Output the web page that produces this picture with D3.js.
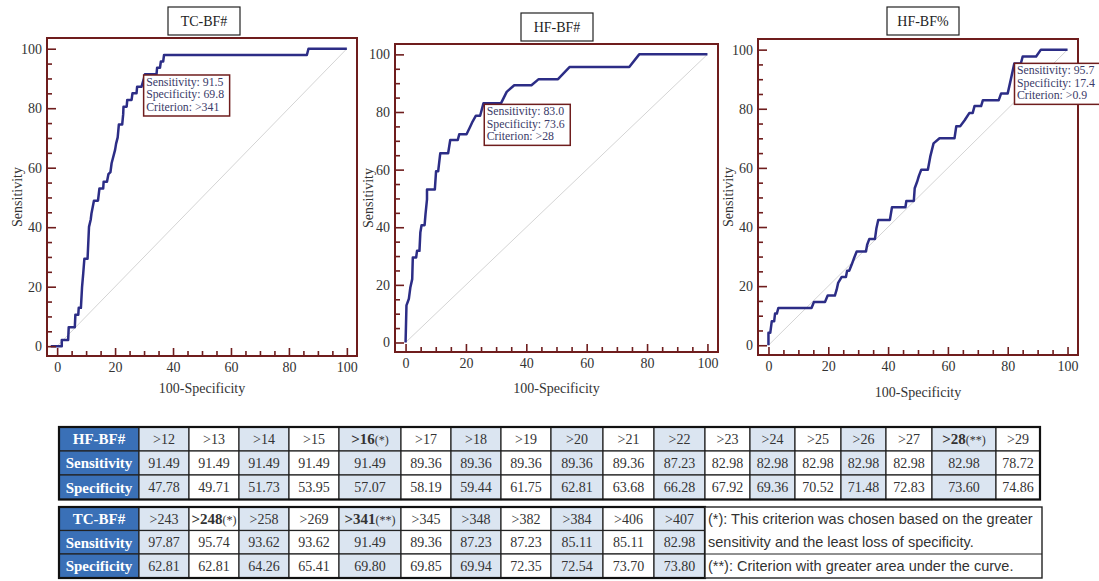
<!DOCTYPE html>
<html>
<head>
<meta charset="utf-8">
<script src="https://cdn.jsdelivr.net/npm/d3@7.9.0/dist/d3.min.js"></script>
<style>
  body { margin: 0; background: #fff; }
  svg { display: block; font-family: "Liberation Serif", "Times New Roman", serif; }
</style>
</head>
<body>
<svg id="chart" width="1099" height="581"></svg>
<script>
// ROC curves: x = 100-Specificity, y = Sensitivity
const tcX = [-2.2, 1.6, 1.6, 3.8, 4.0, 6.1, 6.3, 7.3, 7.45, 8.2, 8.6, 9.0, 9.4, 10.5, 11.0, 11.6, 11.85, 12.7, 14.1, 14.6, 15.9, 16.05, 17.2, 17.7, 18.4, 18.8, 20.0, 20.35, 20.9, 21.3, 22.45, 22.8, 22.9, 24.0, 24.2, 25.7, 26.0, 27.4, 27.6, 29.1, 29.8, 30.3, 34.3, 34.5, 35.5, 35.8, 36.6, 36.9, 86.2, 86.75, 100];
const tcY = [0, 0, 2.1, 2.1, 6.4, 6.4, 10.6, 10.6, 12.9, 12.9, 19.9, 24.4, 29.4, 29.4, 40.1, 42.6, 44.6, 48.9, 48.9, 53.0, 53.0, 55.3, 55.3, 57.8, 58.5, 61.5, 66.0, 68.1, 70.2, 74.5, 74.5, 78.0, 80.5, 80.5, 82.8, 82.8, 85.0, 85.0, 87.2, 87.2, 89.4, 91.4, 91.4, 93.6, 93.6, 95.7, 95.7, 97.9, 97.9, 100, 100];

const hfX = [0, 0.3, 1.1, 1.6, 2.2, 2.4, 3.5, 3.8, 4.6, 4.9, 5.3, 6.3, 6.6, 7.1, 7.1, 9.7, 10.1, 10.8, 11.5, 14.1, 14.8, 17.3, 17.8, 20.2, 21.4, 22.2, 23.3, 24.7, 25.8, 31.6, 33.5, 36.0, 41.7, 44.1, 50.5, 54.3, 74.1, 77.4, 100];
const hfY = [0, 12.9, 15.2, 19.2, 22.0, 29.5, 29.5, 31.8, 31.8, 38.2, 40.7, 40.7, 44.5, 49.7, 53.1, 53.1, 59.4, 59.4, 65.7, 65.7, 70.3, 70.3, 72.3, 72.3, 74.9, 76.7, 78.7, 78.7, 83.0, 83.0, 87.0, 89.3, 89.3, 91.4, 91.4, 95.6, 95.6, 100, 100];

const pctX = [0, 0, 0.6, 1.1, 1.9, 2.2, 2.8, 3.3, 14.4, 15.2, 18.9, 19.8, 22.2, 22.8, 23.3, 24.5, 25.9, 26.3, 27.0, 27.8, 28.7, 29.5, 32.6, 33.0, 33.7, 35.6, 36.1, 36.7, 40.6, 41.3, 45.8, 46.1, 48.6, 48.9, 49.7, 50.3, 51.1, 53.3, 54.1, 55.2, 57.2, 62.2, 62.8, 64.1, 65.6, 67.2, 68.3, 68.9, 71.1, 71.7, 77.0, 77.8, 80.0, 81.1, 82.2, 84.4, 85.0, 89.5, 91.1, 100];
const pctY = [0, 4.2, 4.2, 8.1, 8.1, 10.7, 10.7, 12.6, 12.6, 14.6, 14.6, 16.8, 16.8, 18.8, 21.1, 23.1, 23.1, 25.2, 25.2, 27.2, 29.7, 31.7, 31.7, 34.0, 35.9, 35.9, 39.6, 42.4, 42.4, 46.7, 46.7, 48.8, 48.8, 53.1, 55.3, 57.3, 59.4, 59.4, 63.8, 68.3, 70.0, 70.0, 74.1, 74.1, 76.1, 78.6, 78.6, 80.9, 80.9, 82.9, 82.9, 85.2, 85.2, 90.2, 95.3, 95.3, 97.7, 97.7, 100, 100];

const panelTitles = ['TC-BF#', 'HF-BF#', 'HF-BF%'];
const critSens = [91.5, 83.0, 95.7];
const critSpec = [69.8, 73.6, 17.4];
const critCut = ['>341', '>28', '>0.9'];
const majorTicks = [0, 20, 40, 60, 80, 100];
const minorTicks = [5, 10, 15, 25, 30, 35, 45, 50, 55, 65, 70, 75, 85, 90, 95];

// table values
const rowNames = ['Sensitivity', 'Specificity'];
const hfCriteria = ['>12', '>13', '>14', '>15', '>16(*)', '>17', '>18', '>19', '>20', '>21', '>22', '>23', '>24', '>25', '>26', '>27', '>28(**)', '>29'];
const hfSens = [91.49, 91.49, 91.49, 91.49, 91.49, 89.36, 89.36, 89.36, 89.36, 89.36, 87.23, 82.98, 82.98, 82.98, 82.98, 82.98, 82.98, 78.72];
const hfSpec = [47.78, 49.71, 51.73, 53.95, 57.07, 58.19, 59.44, 61.75, 62.81, 63.68, 66.28, 67.92, 69.36, 70.52, 71.48, 72.83, 73.60, 74.86];
const tcCriteria = ['>243', '>248(*)', '>258', '>269', '>341(**)', '>345', '>348', '>382', '>384', '>406', '>407'];
const tcSens = [97.87, 95.74, 93.62, 93.62, 91.49, 89.36, 87.23, 87.23, 85.11, 85.11, 82.98];
const tcSpec = [62.81, 62.81, 64.26, 65.41, 69.80, 69.85, 69.94, 72.35, 72.54, 73.70, 73.80];
const notes = [
  '(*): This criterion was chosen based on the greater',
  'sensitivity and the least loss of specificity.',
  '(**): Criterion with greater area under the curve.'
];

const curves = [[tcX, tcY], [hfX, hfY], [pctX, pctY]];

// layout
const frames = [
  { x0: 47, x1: 357, y0: 38, y1: 356, titleX: 204, titleY: 7, xLabY: 393, yLabX: 17 },
  { x0: 395, x1: 718, y0: 44, y1: 352, titleX: 557, titleY: 13, xLabY: 393, yLabX: 368 },
  { x0: 758, x1: 1078, y0: 39, y1: 355, titleX: 923, titleY: 7, xLabY: 397, yLabX: 728 }
];
const frameColor = '#6f1d1d';
const curveColor = '#2c2d86';
const textColor = '#333';

const svg = d3.select('#chart');

frames.forEach((f, i) => {
  const x = d3.scaleLinear().domain([-3.5, 103.5]).range([f.x0, f.x1]);
  const y = d3.scaleLinear().domain([-3.3, 103.6]).range([f.y1, f.y0]);
  const g = svg.append('g');

  // title box
  g.append('rect')
    .attr('x', f.titleX - 36).attr('y', f.titleY)
    .attr('width', 72).attr('height', 28)
    .attr('fill', '#fff').attr('stroke', '#222').attr('stroke-width', 1.2);
  g.append('text')
    .attr('x', f.titleX).attr('y', f.titleY + 19)
    .attr('text-anchor', 'middle').attr('font-size', 14).attr('fill', '#222')
    .text(panelTitles[i]);

  // diagonal reference
  g.append('line')
    .attr('x1', x(0)).attr('y1', y(0)).attr('x2', x(100)).attr('y2', y(100))
    .attr('stroke', '#d4d4d4').attr('stroke-width', 1);

  // roc curve
  const [xs, ys] = curves[i];
  const pts = xs.map((v, k) => [v, ys[k]]);
  const line = d3.line().x(d => x(d[0])).y(d => y(d[1]));
  g.append('path')
    .attr('d', line(pts))
    .attr('fill', 'none').attr('stroke', curveColor)
    .attr('stroke-width', 2.5).attr('stroke-linejoin', 'round');

  // axes with inward ticks
  g.append('g').attr('transform', `translate(0,${f.y1})`)
    .call(d3.axisBottom(x).tickValues(majorTicks).tickSize(-8).tickPadding(6));
  g.append('g').attr('transform', `translate(0,${f.y1})`)
    .call(d3.axisBottom(x).tickValues(minorTicks).tickSize(-5).tickFormat(''));
  g.append('g').attr('transform', `translate(${f.x0},0)`)
    .call(d3.axisLeft(y).tickValues(majorTicks).tickSize(-9).tickPadding(5));
  g.append('g').attr('transform', `translate(${f.x0},0)`)
    .call(d3.axisLeft(y).tickValues(minorTicks).tickSize(-5).tickFormat(''));

  g.selectAll('.domain').remove();
  g.selectAll('.tick line').attr('stroke', frameColor).attr('stroke-width', 1.6);
  g.selectAll('.tick text')
    .attr('font-family', '"Liberation Serif", serif')
    .attr('font-size', 14).attr('fill', textColor);

  // frame
  g.append('rect')
    .attr('x', f.x0).attr('y', f.y0)
    .attr('width', f.x1 - f.x0).attr('height', f.y1 - f.y0)
    .attr('fill', 'none').attr('stroke', frameColor).attr('stroke-width', 2);

  // axis titles
  g.append('text')
    .attr('x', (f.x0 + f.x1) / 2).attr('y', f.xLabY)
    .attr('text-anchor', 'middle').attr('font-size', 14).attr('fill', textColor)
    .text('100-Specificity');
  g.append('text')
    .attr('transform', `translate(${f.yLabX},${(f.y0 + f.y1) / 2}) rotate(-90)`)
    .attr('text-anchor', 'middle').attr('dy', '0.35em')
    .attr('font-size', 14).attr('fill', textColor)
    .text('Sensitivity');

  // criterion box
  const bx = x(100 - critSpec[i]) - 1;
  const by = y(critSens[i]) + 1;
  g.append('rect')
    .attr('x', bx).attr('y', by).attr('width', 86).attr('height', 41)
    .attr('fill', '#fff').attr('stroke', frameColor).attr('stroke-width', 1.5);
  const lines = [
    `Sensitivity: ${critSens[i].toFixed(1)}`,
    `Specificity: ${critSpec[i].toFixed(1)}`,
    `Criterion: ${critCut[i]}`
  ];
  lines.forEach((t, k) => {
    g.append('text')
      .attr('x', bx + 2.5).attr('y', by + 11 + k * 12.3)
      .attr('font-size', 11.8).attr('fill', '#3a3a68')
      .text(t);
  });
});

// ---- tables ----
const colW = [50, 50, 50, 50, 62, 50, 50, 50, 52, 51, 51, 45, 45, 46, 45, 46, 64, 44];
const headX = 59, headW = 80;
const colX = [];
colW.reduce((acc, w) => { colX.push(acc); return acc + w; }, headX + headW);
const lightBlue = '#dbe5f1';
const headBlue = '#3a70b7';

function criterionText(sel, label) {
  const m = label.match(/^(.*?)(\(\*+\))$/);
  if (m) {
    sel.append('tspan').attr('font-weight', 'bold').attr('font-size', 15).text(m[1]);
    sel.append('tspan').attr('font-size', 12).text(m[2]);
  } else {
    sel.text(label);
  }
}

function drawTable(rowY, title, criteria, sens, spec) {
  const g = svg.append('g');
  const headers = [title, ...rowNames];
  const rows = [criteria, sens.map(v => v.toFixed(2)), spec.map(v => v.toFixed(2))];
  headers.forEach((h, r) => {
    const y0 = rowY[r], h0 = rowY[r + 1] - rowY[r];
    g.append('rect').attr('x', headX).attr('y', y0).attr('width', headW).attr('height', h0)
      .attr('fill', headBlue).attr('stroke', '#222').attr('stroke-width', 1.2);
    g.append('text').attr('x', headX + headW / 2).attr('y', y0 + h0 / 2)
      .attr('dy', '0.35em').attr('text-anchor', 'middle')
      .attr('font-size', 15).attr('font-weight', 'bold').attr('fill', '#fff')
      .text(h);
    rows[r].forEach((val, c) => {
      g.append('rect').attr('x', colX[c]).attr('y', y0).attr('width', colW[c]).attr('height', h0)
        .attr('fill', c % 2 === 0 ? lightBlue : '#fff')
        .attr('stroke', '#222').attr('stroke-width', 1.2);
      const t = g.append('text').attr('x', colX[c] + colW[c] / 2).attr('y', y0 + h0 / 2)
        .attr('dy', '0.35em').attr('text-anchor', 'middle')
        .attr('font-size', 14).attr('fill', textColor);
      if (r === 0) criterionText(t, val); else t.text(val);
    });
  });
  const last = criteria.length - 1;
  g.append('rect').attr('x', headX).attr('y', rowY[0])
    .attr('width', colX[last] + colW[last] - headX).attr('height', rowY[3] - rowY[0])
    .attr('fill', 'none').attr('stroke', '#111').attr('stroke-width', 2.2);
  return g;
}

drawTable([427, 451, 475, 499.5], 'HF-BF#', hfCriteria, hfSens, hfSpec);
const bottomRows = [507, 530.5, 554, 578];
drawTable(bottomRows, 'TC-BF#', tcCriteria, tcSens, tcSpec);

// notes box next to the lower table
const nx0 = colX[tcCriteria.length], nx1 = 1042;
const ng = svg.append('g');
ng.append('rect').attr('x', nx0).attr('y', bottomRows[0])
  .attr('width', nx1 - nx0).attr('height', bottomRows[3] - bottomRows[0])
  .attr('fill', '#fff').attr('stroke', '#222').attr('stroke-width', 1.4);
ng.append('line').attr('x1', nx0).attr('x2', nx1)
  .attr('y1', bottomRows[2]).attr('y2', bottomRows[2])
  .attr('stroke', '#222').attr('stroke-width', 1.2);
notes.forEach((t, k) => {
  ng.append('text')
    .attr('x', nx0 + 3).attr('y', (bottomRows[k] + bottomRows[k + 1]) / 2)
    .attr('dy', '0.35em')
    .attr('font-family', '"Liberation Sans", Arial, sans-serif')
    .attr('font-size', 14.5).attr('fill', textColor)
    .text(t);
});
</script>
</body>
</html>
